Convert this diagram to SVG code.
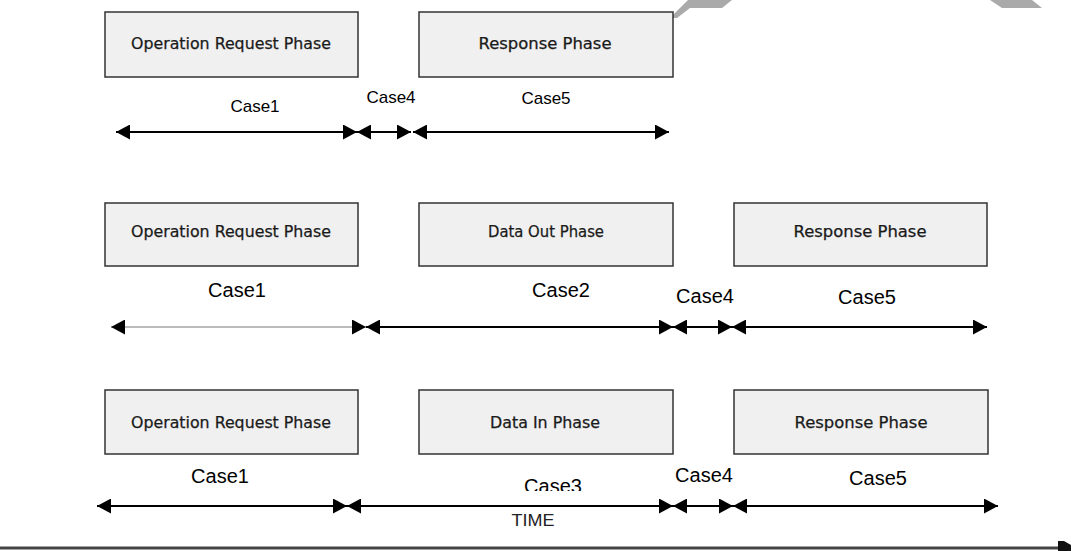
<svg xmlns="http://www.w3.org/2000/svg" width="1071" height="551" viewBox="0 0 1071 551">
<style>
.box{fill:#f0f0f0;stroke:#333;stroke-width:1.5}
.bt{font-family:"DejaVu Sans","Liberation Sans",sans-serif;font-size:15px;fill:#1a1a1a;stroke:#1a1a1a;stroke-width:0.25;text-anchor:middle}
.c1{font-family:"Liberation Sans",Arial,sans-serif;font-size:17px;fill:#000;text-anchor:middle}
.c2{font-family:"Liberation Sans",Arial,sans-serif;font-size:20px;fill:#000;text-anchor:middle}
.ar{stroke:#000;stroke-width:2;fill:none;marker-start:url(#ah);marker-end:url(#ah)}
.thin{stroke:#777;stroke-width:1}
</style>
<defs>
<marker id="ah" viewBox="0 0 14 15" refX="14" refY="7.5" markerWidth="14" markerHeight="15" markerUnits="userSpaceOnUse" orient="auto-start-reverse">
<path d="M0,0 L14,7.5 L0,15 z" fill="#000"/>
</marker>
<clipPath id="clip3"><rect x="500" y="460" width="100" height="31"/></clipPath>
</defs>
<rect width="1071" height="551" fill="#fff"/>
<g id="decor">
<polygon points="670,18 677,18 690,8 722,8 732,0 688,0" fill="#aaa"/>
<polygon points="990,0 1032,0 1042,8 1002,8" fill="#aaa"/>
<line x1="0" y1="548" x2="1060" y2="548" stroke="#444" stroke-width="3"/>
<polygon points="1058,541 1064,541 1071,545 1071,551 1058,551" fill="#111"/>
</g>
<g id="row1-oprequest"><rect class="box" x="105" y="12" width="253" height="65"/><text class="bt" x="231" y="49" textLength="200" lengthAdjust="spacingAndGlyphs">Operation Request Phase</text></g>
<g id="row1-response"><rect class="box" x="419" y="12" width="254" height="65"/><text class="bt" x="545" y="49" textLength="133" lengthAdjust="spacingAndGlyphs">Response Phase</text></g>
<g id="row2-oprequest"><rect class="box" x="105" y="203" width="253" height="63"/><text class="bt" x="231" y="237" textLength="200" lengthAdjust="spacingAndGlyphs">Operation Request Phase</text></g>
<g id="row2-dataout"><rect class="box" x="419" y="203" width="254" height="63"/><text class="bt" x="546" y="237" textLength="116" lengthAdjust="spacingAndGlyphs">Data Out Phase</text></g>
<g id="row2-response"><rect class="box" x="734" y="203" width="253" height="63"/><text class="bt" x="860" y="237" textLength="133" lengthAdjust="spacingAndGlyphs">Response Phase</text></g>
<g id="row3-oprequest"><rect class="box" x="105" y="390" width="253" height="64"/><text class="bt" x="231" y="428" textLength="200" lengthAdjust="spacingAndGlyphs">Operation Request Phase</text></g>
<g id="row3-datain"><rect class="box" x="419" y="390" width="254" height="64"/><text class="bt" x="545" y="428" textLength="110" lengthAdjust="spacingAndGlyphs">Data In Phase</text></g>
<g id="row3-response"><rect class="box" x="734" y="390" width="254" height="64"/><text class="bt" x="861" y="428" textLength="133" lengthAdjust="spacingAndGlyphs">Response Phase</text></g>
<g id="labels">
<text class="c1" x="255" y="112">Case1</text>
<text class="c1" x="391" y="103">Case4</text>
<text class="c1" x="546" y="104">Case5</text>
<text class="c2" x="237" y="297">Case1</text>
<text class="c2" x="561" y="297">Case2</text>
<text class="c2" x="705" y="303">Case4</text>
<text class="c2" x="867" y="304">Case5</text>
<text class="c2" x="220" y="483">Case1</text>
<text class="c2" x="553" y="493" clip-path="url(#clip3)">Case3</text>
<text class="c2" x="704" y="482">Case4</text>
<text class="c2" x="878" y="485">Case5</text>
<text x="533" y="526" font-family="'Liberation Sans',Arial,sans-serif" font-size="17" fill="#222" text-anchor="middle" textLength="43" lengthAdjust="spacingAndGlyphs">TIME</text>
</g>
<g id="connectors">
<line class="ar" x1="116" y1="132" x2="357" y2="132"/>
<line class="ar" x1="357" y1="132" x2="411" y2="132"/>
<line class="ar" x1="413" y1="132" x2="669" y2="132"/>
<line class="ar thin" x1="111" y1="327" x2="366" y2="327"/>
<line class="ar" x1="366" y1="327" x2="673" y2="327"/>
<line class="ar" x1="673" y1="327" x2="732" y2="327"/>
<line class="ar" x1="732" y1="327" x2="987" y2="327"/>
<line class="ar" x1="97" y1="506" x2="347" y2="506"/>
<line class="ar" x1="347" y1="506" x2="673" y2="506"/>
<line class="ar" x1="673" y1="506" x2="733" y2="506"/>
<line class="ar" x1="733" y1="506" x2="998" y2="506"/>
</g>
</svg>
